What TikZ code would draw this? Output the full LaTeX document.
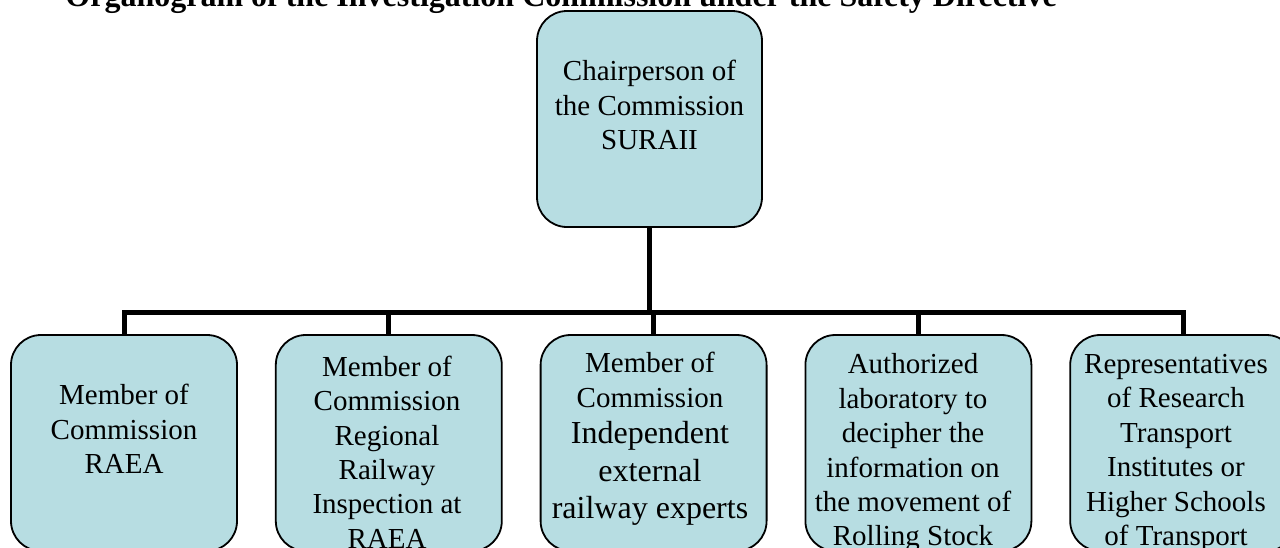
\documentclass[tikz,border=0pt]{standalone}
\usepackage{fontspec}
\setmainfont{Liberation Serif}
\usetikzlibrary{positioning}
\definecolor{boxfill}{RGB}{183,221,226}
\newcommand{\bigtxt}{\fontsize{16}{18.5}\selectfont}

\begin{document}
\begin{tikzpicture}[x=0.5pt, y=-0.5pt,
                    orgbox/.style={draw, rectangle, rounded corners=15pt, fill=boxfill, line width=0.9pt,
                                   minimum width=113pt, minimum height=108pt, inner sep=0pt},
                    boxtext/.style={align=center, inner sep=0pt, font=\fontsize{14.5}{17.2}\selectfont},
                    conn/.style={line width=2.5pt},
                    node distance=18.5pt]
    \useasboundingbox (0,0) rectangle (1280,547);
    \clip (0,0) rectangle (1280,547);
    % Title
    \node[anchor=base west, inner sep=0pt, font=\fontsize{16}{19}\selectfont\bfseries] (title) at (65,6)
        {Organogram of the Investigation Commission under the Safety Directive};
    % Chairperson
    \node[orgbox, minimum width=112.5pt] (chair) at (649.5,119) {};
    % Members
    \node[orgbox] (m1) at (124,443) {};
    \node[orgbox, right=of m1] (m2) {};
    \node[orgbox, right=of m2] (m3) {};
    \node[orgbox, right=of m3] (m4) {};
    \node[orgbox, right=of m4] (m5) {};
    % Connectors
    \coordinate (bus) at (649.5,312);
    \draw[conn] (chair.south) -- (bus);
    \foreach \m in {m1,m2,m3,m4,m5}
        \draw[conn] (bus) -| (\m.north);
    % Texts
    \node[boxtext] (chairtext) at (649.5,105) {Chairperson of\\the Commission\\SURAII};
    \node[boxtext] (m1text) at (124,429) {Member of\\Commission\\RAEA};
    \node[boxtext] (m2text) at (387,452) {Member of\\Commission\\Regional\\Railway\\Inspection at\\RAEA};
    \node[boxtext] (m3text) at (650,439) {Member of\\Commission\\[1pt]\bigtxt Independent\\[1.5pt]\bigtxt external\\[1.5pt]\bigtxt railway experts};
    \node[boxtext] (m4text) at (913,453) {Authorized\\laboratory to\\decipher the\\information on\\the movement of\\Rolling Stock};
    \node[boxtext] (m5text) at (1176,453) {Representatives\\of Research\\Transport\\Institutes or\\Higher Schools\\of Transport};
\end{tikzpicture}
\end{document}
